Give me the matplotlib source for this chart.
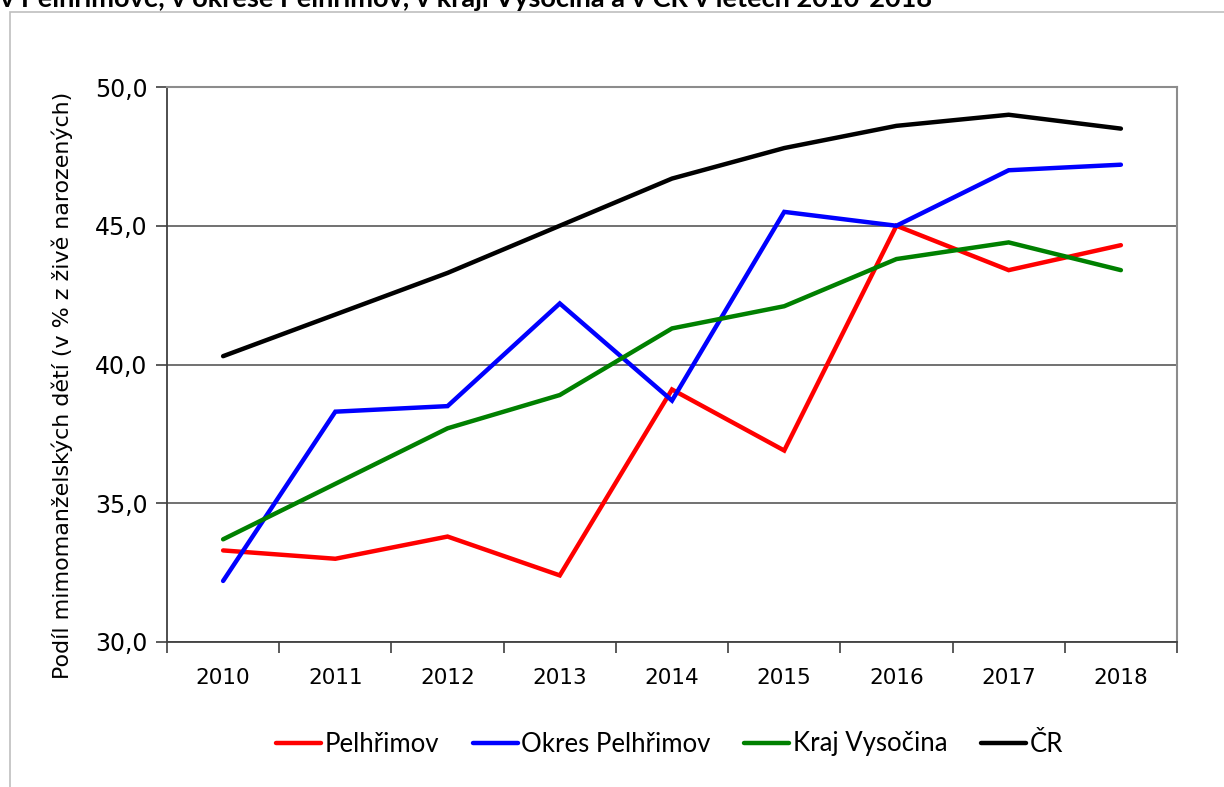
import matplotlib.pyplot as plt
from matplotlib.patches import Rectangle
from matplotlib.ticker import FixedLocator, FuncFormatter

years = ['2010', '2011', '2012', '2013', '2014', '2015', '2016', '2017', '2018']
pelhrimov = [33.3, 33.0, 33.8, 32.4, 39.1, 36.9, 45.0, 43.4, 44.3]
okres = [32.2, 38.3, 38.5, 42.2, 38.7, 45.5, 45.0, 47.0, 47.2]
kraj = [33.7, 35.7, 37.7, 38.9, 41.3, 42.1, 43.8, 44.4, 43.4]
cr = [40.3, 41.8, 43.3, 45.0, 46.7, 47.8, 48.6, 49.0, 48.5]

series = [('Pelhřimov', pelhrimov, '#ff0000'),
          ('Okres Pelhřimov', okres, '#0000ff'),
          ('Kraj Vysočina', kraj, '#008000'),
          ('ČR', cr, '#000000')]

title = 'v Pelhřimově, v okrese Pelhřimov, v kraji Vysočina a v ČR v letech 2010-2018'
ylabel = 'Podíl mimomanželských dětí (v % z živě narozených)'

W, H = 1224, 787
fig = plt.figure(figsize=(W / 100, H / 100), dpi=100)

# outer chart frame (cut off on the right and bottom)
fig.patches.append(Rectangle((10 / W, -0.1), 1.2, 1.1 - 12 / H, transform=fig.transFigure,
                             fill=False, edgecolor='#bfbfbf', lw=1.2))
fig.text(0.0, 1 - 7 / H, title, fontsize=19.5, fontweight='bold', family=['Lato', 'DejaVu Sans'],
         va='baseline', ha='left')

ax = fig.add_axes([167 / W, (H - 642) / H, (1177 - 167) / W, (642 - 87) / H])
x = list(range(len(years)))
for name, vals, col in series:
    ax.plot(x, vals, color=col, lw=3.2, label=name, solid_capstyle='round', solid_joinstyle='miter')

ax.set_xlim(-0.5, len(years) - 0.5)
ax.set_ylim(30, 50)
ax.set_yticks([30, 35, 40, 45, 50])
ax.yaxis.set_major_formatter(FuncFormatter(lambda v, p: f'{v:.1f}'.replace('.', ',')))
ax.set_xticks(x)
ax.set_xticklabels(years)
ax.xaxis.set_minor_locator(FixedLocator([i - 0.5 for i in range(len(years) + 1)]))
ax.tick_params(axis='x', which='major', length=0, pad=19, labelsize=15.5)
ax.tick_params(axis='x', which='minor', length=8, width=1.2, color='#404040', direction='out')
ax.tick_params(axis='y', length=8, width=1.2, color='#404040', pad=6, labelsize=17)
ax.grid(axis='y', color='#595959', lw=1.2)
ax.set_axisbelow(True)

for s in ['left', 'bottom']:
    ax.spines[s].set_color('#404040')
    ax.spines[s].set_linewidth(1.3)
for s in ['top', 'right']:
    ax.spines[s].set_color('#8c8c8c')
    ax.spines[s].set_linewidth(1.5)

ax.set_ylabel(ylabel, fontsize=15.9)
ax.yaxis.set_label_coords(-0.093, 0.462)

fig.legend(loc='center', bbox_to_anchor=(0.547, 1 - 744 / H), ncol=4, frameon=False,
           prop={'family': ['Lato', 'DejaVu Sans'], 'size': 18.5}, handlelength=1.75,
           handletextpad=0.15, columnspacing=1.3)

fig.savefig('out.png', dpi=100)
